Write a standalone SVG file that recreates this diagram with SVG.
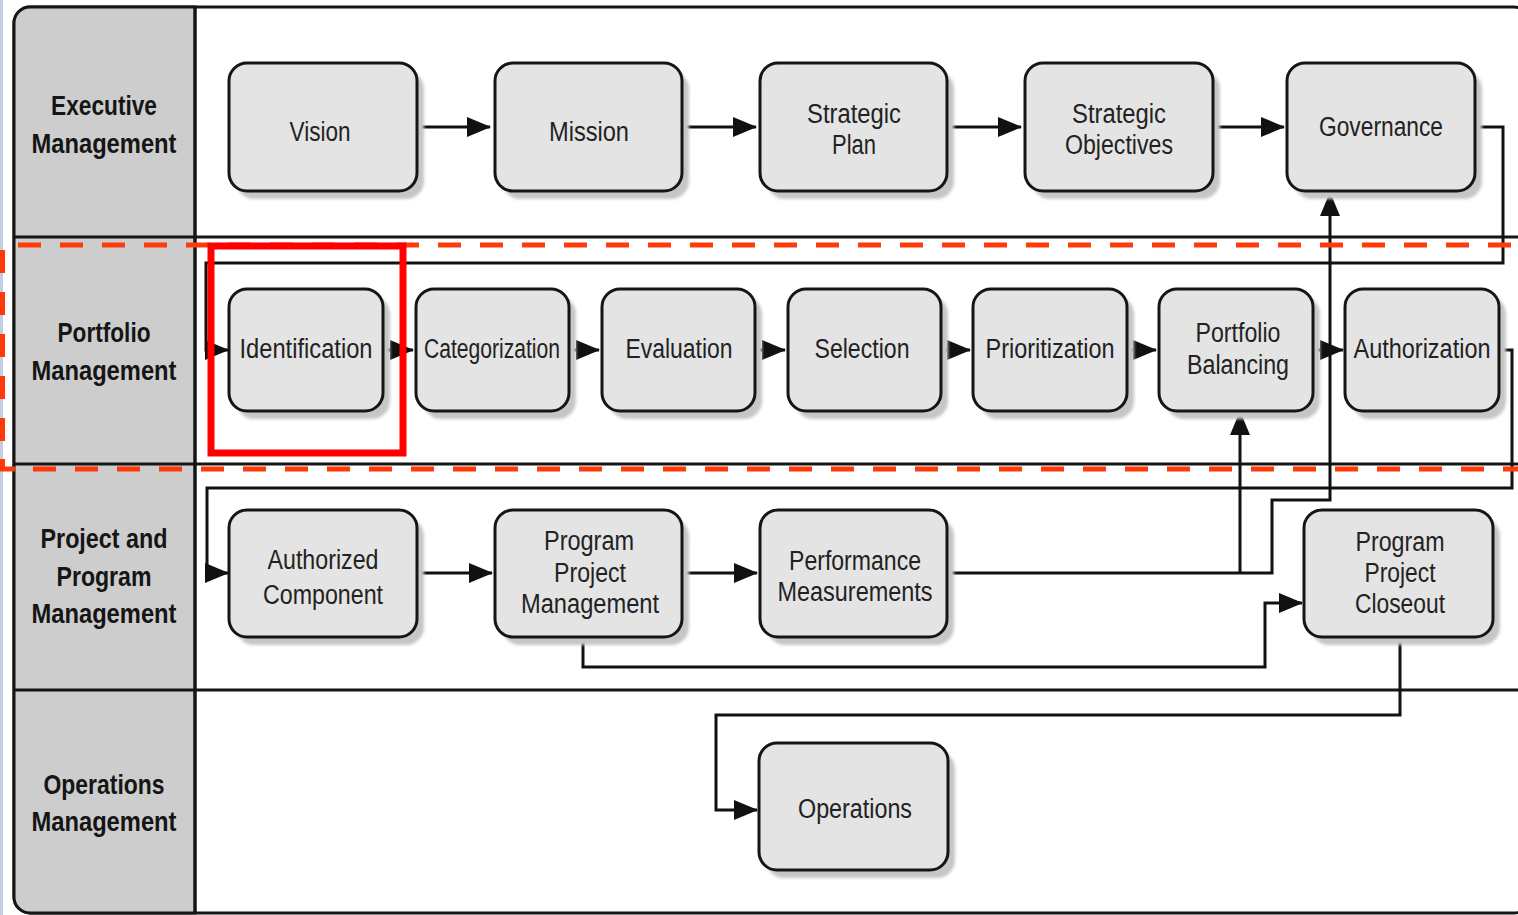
<svg xmlns="http://www.w3.org/2000/svg" width="1518" height="915" viewBox="0 0 1518 915">
  <style>
    .lane-title { font-family: "Liberation Sans", Arial, sans-serif; font-size: 28px; font-weight: bold; fill: #151515; text-anchor: middle; }
    .box { fill: #e4e4e4; stroke: #151515; stroke-width: 3; }
    .shadow { fill: #c6c6c6; filter: url(#soft); }
    .label { font-family: "Liberation Sans", Arial, sans-serif; font-size: 27px; fill: #222; text-anchor: middle; }
    .wire { fill: none; stroke: #111; stroke-width: 3; }
    .arrow { fill: none; stroke: #111; stroke-width: 3; marker-end: url(#head); }
    .lane-line { stroke: #151515; stroke-width: 3; }
    .focus-dash { fill: none; stroke: #ff3a0a; stroke-width: 5; stroke-dasharray: 23 19; }
  </style>
  <defs>
    <filter id="soft" x="-10%" y="-10%" width="120%" height="120%">
      <feGaussianBlur stdDeviation="1.6"/>
    </filter>
    <marker id="head" viewBox="0 0 24 20" refX="23" refY="10" markerWidth="24" markerHeight="20" markerUnits="userSpaceOnUse" orient="auto">
      <path d="M0,0 L24,10 L0,20 Z" fill="#111"/>
    </marker>
  </defs>

  <!-- page background and left edge strip -->
  <rect x="0" y="0" width="1518" height="915" fill="#ffffff"/>
  <rect x="0" y="0" width="3" height="915" fill="#c3cde3"/>

  <!-- swimlane frame -->
  <g id="frame">
    <rect x="14" y="7" width="1516" height="906" rx="16" fill="#ffffff" stroke="#151515" stroke-width="3"/>
    <path d="M195,7 H30 A16,16 0 0 0 14,23 V897 A16,16 0 0 0 30,913 H195 Z" fill="#cdcdcd" stroke="#151515" stroke-width="3"/>
    <line class="lane-line" x1="14" y1="237" x2="1518" y2="237"/>
    <line class="lane-line" x1="14" y1="464" x2="1518" y2="464"/>
    <line class="lane-line" x1="14" y1="690" x2="1518" y2="690"/>
    <line class="lane-line" x1="195" y1="7" x2="195" y2="913"/>
  </g>

  <!-- lane titles -->
  <g id="lane-executive">
    <text class="lane-title" x="104" y="115" textLength="106" lengthAdjust="spacingAndGlyphs">Executive</text>
    <text class="lane-title" x="104" y="153" textLength="145" lengthAdjust="spacingAndGlyphs">Management</text>
  </g>
  <g id="lane-portfolio">
    <text class="lane-title" x="104" y="342" textLength="93" lengthAdjust="spacingAndGlyphs">Portfolio</text>
    <text class="lane-title" x="104" y="380" textLength="145" lengthAdjust="spacingAndGlyphs">Management</text>
  </g>
  <g id="lane-project">
    <text class="lane-title" x="104" y="548" textLength="127" lengthAdjust="spacingAndGlyphs">Project and</text>
    <text class="lane-title" x="104" y="586" textLength="95" lengthAdjust="spacingAndGlyphs">Program</text>
    <text class="lane-title" x="104" y="623" textLength="145" lengthAdjust="spacingAndGlyphs">Management</text>
  </g>
  <g id="lane-operations">
    <text class="lane-title" x="104" y="794" textLength="121" lengthAdjust="spacingAndGlyphs">Operations</text>
    <text class="lane-title" x="104" y="831" textLength="145" lengthAdjust="spacingAndGlyphs">Management</text>
  </g>

  <!-- connectors -->
  <g id="connectors">
    <!-- executive row -->
    <line class="arrow" x1="417" y1="127" x2="490" y2="127"/>
    <line class="arrow" x1="682" y1="127" x2="756" y2="127"/>
    <line class="arrow" x1="947" y1="127" x2="1021" y2="127"/>
    <line class="arrow" x1="1213" y1="127" x2="1284" y2="127"/>
    <!-- governance feeds identification -->
    <path class="arrow" d="M1476,127 H1503 V263 H206 V350 H228"/>
    <!-- portfolio row -->
    <line class="arrow" x1="383" y1="350" x2="413" y2="350"/>
    <line class="arrow" x1="569" y1="350" x2="599" y2="350"/>
    <line class="arrow" x1="755" y1="350" x2="785" y2="350"/>
    <line class="arrow" x1="941" y1="350" x2="970" y2="350"/>
    <line class="arrow" x1="1127" y1="350" x2="1156" y2="350"/>
    <line class="arrow" x1="1313" y1="350" x2="1343" y2="350"/>
    <!-- authorization feeds authorized component -->
    <path class="arrow" d="M1499,350 H1512 V488 H207 V573 H228"/>
    <!-- project row -->
    <line class="arrow" x1="417" y1="573" x2="492" y2="573"/>
    <line class="arrow" x1="682" y1="573" x2="757" y2="573"/>
    <!-- performance feedback to governance and balancing -->
    <path class="arrow" d="M947,573 H1272 V500 H1330 V193"/>
    <line class="arrow" x1="1240" y1="573" x2="1240" y2="412"/>
    <!-- management to closeout -->
    <path class="arrow" d="M583,637 V667 H1265 V603 H1302"/>
    <!-- closeout to operations -->
    <path class="arrow" d="M1400,637 V715 H716 V810 H757"/>
  </g>

  <!-- executive management nodes -->
  <g id="vision">
    <rect class="shadow" x="236" y="71" width="188" height="128" rx="18"/>
    <rect class="box" x="229" y="63" width="188" height="128" rx="18"/>
    <text class="label" x="320" y="141" textLength="61" lengthAdjust="spacingAndGlyphs">Vision</text>
  </g>
  <g id="mission">
    <rect class="shadow" x="502" y="71" width="187" height="128" rx="18"/>
    <rect class="box" x="495" y="63" width="187" height="128" rx="18"/>
    <text class="label" x="589" y="141" textLength="80" lengthAdjust="spacingAndGlyphs">Mission</text>
  </g>
  <g id="strategic-plan">
    <rect class="shadow" x="767" y="71" width="187" height="128" rx="18"/>
    <rect class="box" x="760" y="63" width="187" height="128" rx="18"/>
    <text class="label" x="854" y="123" textLength="94" lengthAdjust="spacingAndGlyphs">Strategic</text>
    <text class="label" x="854" y="154" textLength="44" lengthAdjust="spacingAndGlyphs">Plan</text>
  </g>
  <g id="strategic-objectives">
    <rect class="shadow" x="1032" y="71" width="188" height="128" rx="18"/>
    <rect class="box" x="1025" y="63" width="188" height="128" rx="18"/>
    <text class="label" x="1119" y="123" textLength="94" lengthAdjust="spacingAndGlyphs">Strategic</text>
    <text class="label" x="1119" y="154" textLength="108" lengthAdjust="spacingAndGlyphs">Objectives</text>
  </g>
  <g id="governance">
    <rect class="shadow" x="1294" y="71" width="188" height="128" rx="18"/>
    <rect class="box" x="1287" y="63" width="188" height="128" rx="18"/>
    <text class="label" x="1381" y="136" textLength="124" lengthAdjust="spacingAndGlyphs">Governance</text>
  </g>

  <!-- portfolio management nodes -->
  <g id="identification">
    <rect class="shadow" x="236" y="296" width="154" height="123" rx="18"/>
    <rect class="box" x="229" y="289" width="154" height="122" rx="18"/>
    <text class="label" x="306" y="358" textLength="133" lengthAdjust="spacingAndGlyphs">Identification</text>
  </g>
  <g id="categorization">
    <rect class="shadow" x="423" y="296" width="153" height="123" rx="18"/>
    <rect class="box" x="416" y="289" width="153" height="122" rx="18"/>
    <text class="label" x="492" y="358" textLength="136" lengthAdjust="spacingAndGlyphs">Categorization</text>
  </g>
  <g id="evaluation">
    <rect class="shadow" x="609" y="296" width="153" height="123" rx="18"/>
    <rect class="box" x="602" y="289" width="153" height="122" rx="18"/>
    <text class="label" x="679" y="358" textLength="107" lengthAdjust="spacingAndGlyphs">Evaluation</text>
  </g>
  <g id="selection">
    <rect class="shadow" x="795" y="296" width="153" height="123" rx="18"/>
    <rect class="box" x="788" y="289" width="153" height="122" rx="18"/>
    <text class="label" x="862" y="358" textLength="95" lengthAdjust="spacingAndGlyphs">Selection</text>
  </g>
  <g id="prioritization">
    <rect class="shadow" x="980" y="296" width="154" height="123" rx="18"/>
    <rect class="box" x="973" y="289" width="154" height="122" rx="18"/>
    <text class="label" x="1050" y="358" textLength="129" lengthAdjust="spacingAndGlyphs">Prioritization</text>
  </g>
  <g id="portfolio-balancing">
    <rect class="shadow" x="1166" y="296" width="154" height="123" rx="18"/>
    <rect class="box" x="1159" y="289" width="154" height="122" rx="18"/>
    <text class="label" x="1238" y="342" textLength="85" lengthAdjust="spacingAndGlyphs">Portfolio</text>
    <text class="label" x="1238" y="374" textLength="102" lengthAdjust="spacingAndGlyphs">Balancing</text>
  </g>
  <g id="authorization">
    <rect class="shadow" x="1352" y="296" width="154" height="123" rx="18"/>
    <rect class="box" x="1345" y="289" width="154" height="122" rx="18"/>
    <text class="label" x="1422" y="358" textLength="137" lengthAdjust="spacingAndGlyphs">Authorization</text>
  </g>

  <!-- project and program management nodes -->
  <g id="authorized-component">
    <rect class="shadow" x="236" y="518" width="188" height="127" rx="18"/>
    <rect class="box" x="229" y="510" width="188" height="127" rx="18"/>
    <text class="label" x="323" y="569" textLength="111" lengthAdjust="spacingAndGlyphs">Authorized</text>
    <text class="label" x="323" y="604" textLength="120" lengthAdjust="spacingAndGlyphs">Component</text>
  </g>
  <g id="program-project-management">
    <rect class="shadow" x="502" y="518" width="187" height="127" rx="18"/>
    <rect class="box" x="495" y="510" width="187" height="127" rx="18"/>
    <text class="label" x="589" y="550" textLength="90" lengthAdjust="spacingAndGlyphs">Program</text>
    <text class="label" x="590" y="582" textLength="72" lengthAdjust="spacingAndGlyphs">Project</text>
    <text class="label" x="590" y="613" textLength="138" lengthAdjust="spacingAndGlyphs">Management</text>
  </g>
  <g id="performance-measurements">
    <rect class="shadow" x="767" y="518" width="187" height="127" rx="18"/>
    <rect class="box" x="760" y="510" width="187" height="127" rx="18"/>
    <text class="label" x="855" y="570" textLength="132" lengthAdjust="spacingAndGlyphs">Performance</text>
    <text class="label" x="855" y="601" textLength="155" lengthAdjust="spacingAndGlyphs">Measurements</text>
  </g>
  <g id="program-project-closeout">
    <rect class="shadow" x="1311" y="518" width="189" height="127" rx="18"/>
    <rect class="box" x="1304" y="510" width="189" height="127" rx="18"/>
    <text class="label" x="1400" y="551" textLength="89" lengthAdjust="spacingAndGlyphs">Program</text>
    <text class="label" x="1400" y="582" textLength="71" lengthAdjust="spacingAndGlyphs">Project</text>
    <text class="label" x="1400" y="613" textLength="90" lengthAdjust="spacingAndGlyphs">Closeout</text>
  </g>

  <!-- operations management node -->
  <g id="operations">
    <rect class="shadow" x="766" y="751" width="189" height="127" rx="18"/>
    <rect class="box" x="759" y="743" width="189" height="127" rx="18"/>
    <text class="label" x="855" y="818" textLength="114" lengthAdjust="spacingAndGlyphs">Operations</text>
  </g>

  <!-- highlight of the portfolio lane -->
  <g id="portfolio-highlight">
    <line class="focus-dash" x1="18" y1="245" x2="1518" y2="245"/>
    <line class="focus-dash" x1="2.5" y1="250" x2="2.5" y2="458" stroke-dasharray="22 20"/>
    <path d="M2.5,459 V469 H15" fill="none" stroke="#ff3a0a" stroke-width="5"/>
    <line class="focus-dash" x1="33" y1="469" x2="1518" y2="469"/>
  </g>

  <!-- highlight of the identification step -->
  <g id="identification-highlight">
    <rect x="211" y="246" width="192" height="207" fill="none" stroke="#ff0000" stroke-width="7"/>
  </g>
</svg>
